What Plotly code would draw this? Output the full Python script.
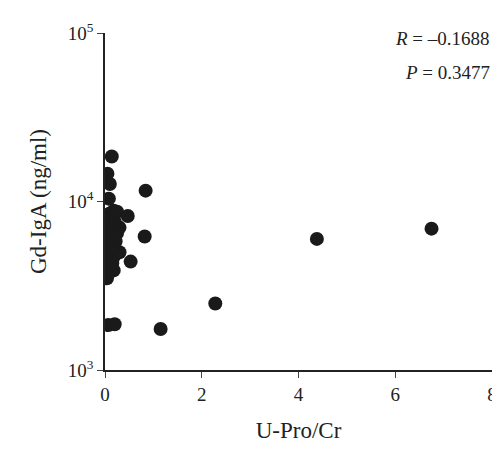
import plotly.graph_objects as go

u_pro_cr = [0.14, 0.05, 0.10, 0.08, 0.84, 0.18, 0.10, 0.25, 0.47, 0.05, 0.20, 0.12, 0.30, 0.02,
            0.15, 0.25, 0.08, 0.18, 0.82, 0.05, 0.22, 0.12, 0.30, 0.20, 0.10, 0.53, 0.03, 0.15,
            0.08, 0.18, 0.04, 0.07, 0.20, 1.15, 2.28, 4.38, 6.75]
gd_iga = [18500, 14600, 12700, 10400, 11600, 8800, 8500, 8700, 8200, 7800, 7600, 7300, 7000, 7200,
          6800, 6500, 6600, 6200, 6200, 6000, 5800, 5500, 5000, 4800, 5200, 4400, 4700, 4300,
          4100, 3900, 3500, 1850, 1870, 1750, 2480, 6000, 6900]

fig = go.Figure(go.Scatter(
    x=u_pro_cr, y=gd_iga, mode='markers',
    marker=dict(color='#1a1a1a', size=14),
))

font = dict(family='Liberation Serif', size=19, color='#222')
fig.update_layout(
    width=500, height=452, plot_bgcolor='white', paper_bgcolor='white',
    margin=dict(l=97, r=16, t=25, b=90), showlegend=False, font=font,
    xaxis=dict(title=dict(text='U-Pro/Cr', standoff=18), range=[0, 8], tickvals=[0, 2, 4, 6, 8],
               showline=True, linecolor='#222', linewidth=1.5, ticks='outside', ticklen=6,
               showgrid=False, zeroline=False),
    yaxis=dict(title='Gd-IgA (ng/ml)', type='log', range=[3, 5], tickvals=[1000, 10000, 100000],
               ticktext=['10<sup>3</sup>', '10<sup>4</sup>', '10<sup>5</sup>'],
               showline=True, linecolor='#222', linewidth=1.5, ticks='outside', ticklen=6,
               showgrid=False, zeroline=False),
    annotations=[
        dict(text='<i>R</i> = \u20130.1688', x=1, xref='paper', xanchor='right', y=1.02, yref='paper',
             showarrow=False, font=font),
        dict(text='<i>P</i> = 0.3477', x=1, xref='paper', xanchor='right', y=0.92, yref='paper',
             showarrow=False, font=font),
    ],
)
fig.write_html('out.html')
